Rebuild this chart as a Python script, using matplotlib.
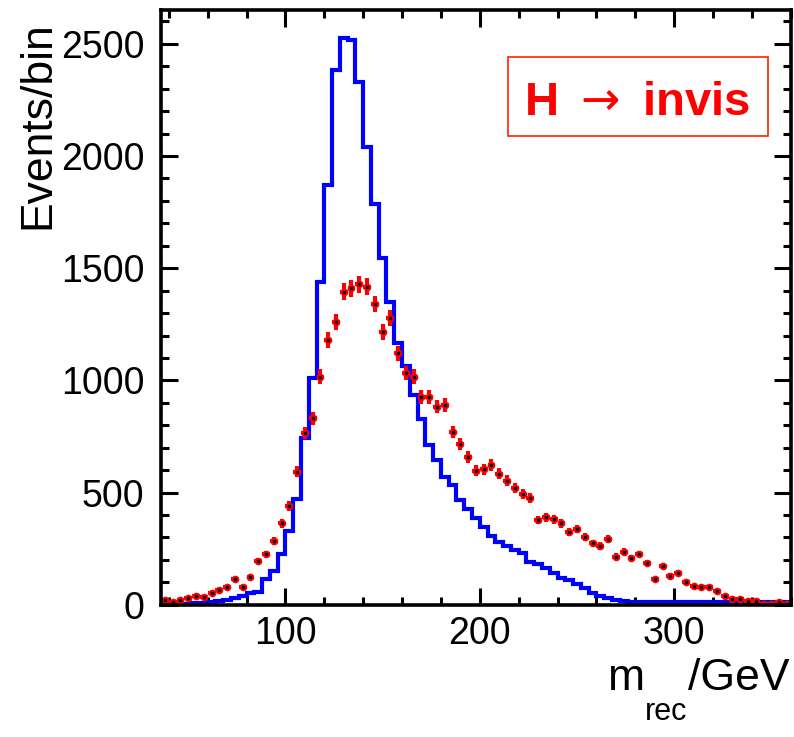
import numpy as np
import matplotlib
matplotlib.use("Agg")
import matplotlib.pyplot as plt
from matplotlib.ticker import MultipleLocator
from matplotlib.patches import Rectangle

plt.rcParams['font.family'] = ['Liberation Sans', 'DejaVu Sans']

# ---- data ----
x_min = 36
x_max = 360
bin_width = 4

# blue histogram (signal, expected) per bin, bins of 4 GeV from 36 to 360
signal = [2, 3, 4, 5, 8, 9, 12, 15, 22, 30,
          38, 50, 58, 113, 150, 226, 330, 470, 742, 1009,
          1440, 1871, 2384, 2525, 2518, 2332, 2042, 1785, 1544, 1348,
          1165, 1064, 935, 827, 712, 645, 571, 534, 465, 428,
          385, 345, 308, 278, 262, 244, 229, 192, 181, 162,
          143, 120, 110, 92, 73, 51, 39, 28, 21, 16,
          14, 13, 13, 12, 12, 12, 12, 11, 11, 11,
          11, 11, 10, 10, 10, 10, 10, 10, 10, 10, 10]

# red points (data) per bin
data = [21, 13, 21, 28, 39, 36, 51, 66, 80, 113,
        80, 122, 195, 226, 284, 363, 440, 592, 765, 832,
        1017, 1180, 1262, 1395, 1411, 1428, 1418, 1341, 1217, 1277,
        1121, 1032, 1017, 925, 925, 883, 890, 770, 718, 658,
        597, 604, 623, 583, 553, 519, 494, 474, 378, 390,
        381, 363, 325, 336, 303, 274, 262, 293, 214, 236,
        207, 226, 185, 113, 174, 129, 143, 103, 85, 80,
        80, 62, 39, 24, 27, 18, 18, 3, 3, 12, 3]

x_ticks = [100, 200, 300]
y_ticks = [0, 500, 1000, 1500, 2000, 2500]
y_max = 2651
label_text = "H $\\rightarrow$ invis"

edges = np.arange(x_min, x_max + bin_width / 2, bin_width)
centers = 0.5 * (edges[:-1] + edges[1:])
signal = np.array(signal, dtype=float)
data = np.array(data, dtype=float)

W, H = 794, 737
fig = plt.figure(figsize=(W / 100, H / 100), dpi=100)
ax = fig.add_axes([161 / W, 1 - 604.7 / H, (790.8 - 161) / W, (604.7 - 10) / H])

ax.stairs(signal, edges, color='#0000ff', lw=3, baseline=None, zorder=2)
ax.errorbar(centers, data, xerr=bin_width / 2, yerr=np.sqrt(data), fmt='o',
            color='#ff0000', ms=5.5, mec='#ff0000', mew=0,
            ecolor='#ff0000', elinewidth=3, capsize=0, zorder=3)
ax.plot(centers, data, 's', color='black', ms=1.8, zorder=4)

ax.set_xlim(x_min, x_max)
ax.set_ylim(0, y_max)
ax.set_xticks(x_ticks)
ax.set_yticks(y_ticks)
ax.xaxis.set_minor_locator(MultipleLocator(20))
ax.yaxis.set_minor_locator(MultipleLocator(100))
ax.tick_params(which='both', direction='in', top=True, right=True, width=2.2,
               labelsize=27, colors='black')
ax.tick_params(which='major', length=12.5)
ax.tick_params(which='minor', length=6)
ax.tick_params(axis='x', pad=8)
ax.tick_params(axis='y', pad=12)
for s in ax.spines.values():
    s.set_linewidth(2.6)
    s.set_zorder(5)

# label box
bx0, bx1, by0, by1 = 508.3, 768.3, 57.3, 135.7
fig.add_artist(Rectangle((bx0 / W, 1 - by1 / H), (bx1 - bx0) / W, (by1 - by0) / H,
                         transform=fig.transFigure, facecolor='white',
                         edgecolor='#ff2000', lw=1.2, zorder=6))
fig.text(637.5 / W, 1 - 115 / H, label_text, color='#ff0000', fontsize=34,
         fontweight='bold', ha='center', va='baseline', zorder=7)

# y label
fig.text(38 / W, 1 - 21 / H, 'Events/bin', rotation=90, fontsize=32,
         ha='center', va='top')

# x label: m_rec/GeV
fig.canvas.draw()
r = fig.canvas.get_renderer()
t3 = fig.text(789 / W, 1 - 690 / H, '/GeV', ha='right', va='baseline', fontsize=32)
bb = t3.get_window_extent(r)
t2 = fig.text(bb.x0 / W, 1 - 720 / H, 'rec', ha='right', va='baseline', fontsize=22)
bb2 = t2.get_window_extent(r)
t1 = fig.text(bb2.x0 / W, 1 - 690 / H, 'm', ha='right', va='baseline', fontsize=32)

fig.savefig('out.png', dpi=100)
